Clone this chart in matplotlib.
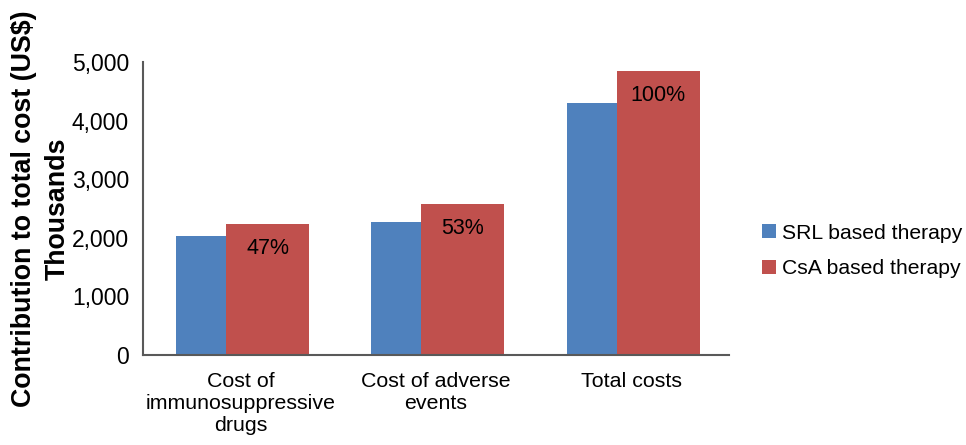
import numpy as np
import matplotlib.pyplot as plt
from matplotlib.ticker import FuncFormatter

categories = ["Cost of\nimmunosuppressive\ndrugs", "Cost of adverse\nevents", "Total costs"]
srl_values = [2035, 2275, 4300]
csa_values = [2240, 2580, 4845]
csa_labels = ["47%", "53%", "100%"]
series_names = ["SRL based therapy", "CsA based therapy"]

plt.rcParams['font.family'] = ['Liberation Sans', 'DejaVu Sans']


def main():
    fig = plt.figure(figsize=(9.66, 4.45), dpi=100)
    ax = fig.add_axes([0.148, 0.2022, 0.6067, 0.6585])

    x = np.arange(len(categories)) + 0.5
    w = 0.425
    ax.bar(x - 0.331, srl_values, width=w, align='edge',
           color='#4F81BD', label=series_names[0])
    bars = ax.bar(x - 0.075, csa_values, width=w, align='edge',
                  color='#C0504D', label=series_names[1])

    for rect, txt in zip(bars, csa_labels):
        ax.annotate(txt, (rect.get_x() + rect.get_width() / 2, rect.get_height()),
                    xytext=(0, -17.5), textcoords='offset points',
                    ha='center', va='center', fontsize=15.5, color='black')

    ax.set_xlim(0, len(categories))
    ax.set_ylim(0, 5000)
    ax.set_yticks(range(0, 5001, 1000))
    ax.yaxis.set_major_formatter(FuncFormatter(lambda v, p: f"{int(v):,}"))
    ax.set_xticks(x)
    ax.tick_params(axis='both', length=0, labelsize=16.5, colors='black')
    ax.set_xticklabels(categories, fontsize=15.4, linespacing=1.2)
    ax.tick_params(axis='y', pad=10)
    ax.tick_params(axis='x', pad=12)

    for side in ['top', 'right']:
        ax.spines[side].set_visible(False)
    for side in ['left', 'bottom']:
        ax.spines[side].set_color('#595959')
        ax.spines[side].set_linewidth(1.5)

    # two-line bold axis title, as in the original
    ax.set_ylabel("Contribution to total cost (US$)\nThousands", fontsize=19.3,
                  fontweight='bold', linespacing=1.35, labelpad=1)

    fig.legend(loc='center left', bbox_to_anchor=(0.780, 0.436), frameon=False,
               fontsize=15.2, handlelength=0.65, handleheight=0.65,
               handletextpad=0.3, labelspacing=0.8, borderaxespad=0)

    fig.savefig("out.png", dpi=100)


if __name__ == '__main__':
    main()
